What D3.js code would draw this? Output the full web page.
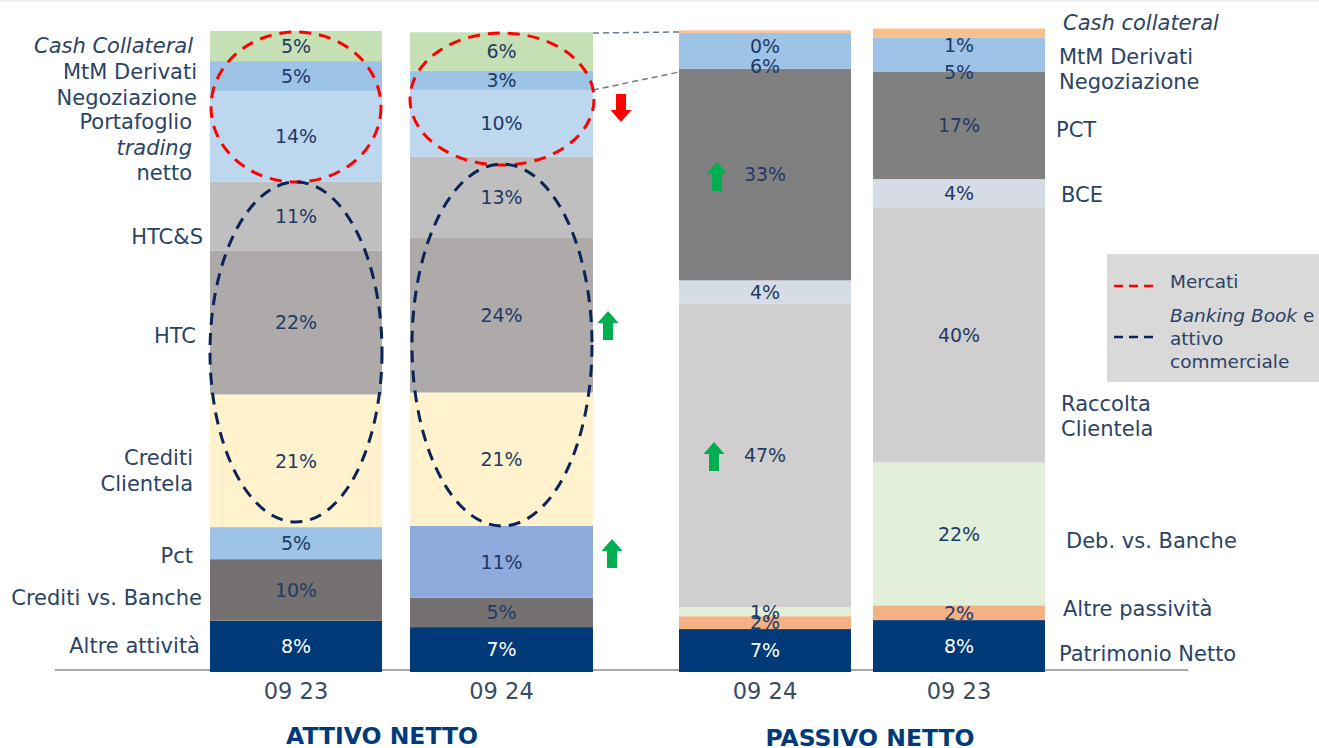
<!DOCTYPE html>
<html>
<head>
<meta charset="utf-8">
<script src="https://cdn.jsdelivr.net/npm/d3@7"></script>
<style>
  body { margin: 0; background: #fff; }
  svg { display: block; font-family: 'DejaVu Sans', Verdana, sans-serif; }
</style>
</head>
<body>
<svg id="area" width="1319" height="748"></svg>
<script>
// stacks go bottom -> top
const attivoCats = ['Altre attività', 'Crediti vs. Banche', 'Pct', 'Crediti Clientela', 'HTC', 'HTC&S',
  'Portafoglio trading netto', 'MtM Derivati Negoziazione', 'Cash Collateral'];
const attivo0923 = [8.0, 9.6, 5.0, 20.7, 22.4, 10.8, 14.1, 4.7, 4.7];
const attivo0924 = [7.0, 4.6, 11.2, 20.8, 24.1, 12.7, 10.4, 3.0, 6.0];
const attivoColors = ['#003A78', '#767171', '#9DC3E6', '#FFF2CC', '#AEAAAA', '#BFBFBF', '#BDD7EE', '#9DC3E6', '#C5E0B4'];

const passivoCats = ['Patrimonio Netto', 'Altre passività', 'Deb. vs. Banche', 'Raccolta Clientela', 'BCE', 'PCT',
  'MtM Derivati Negoziazione', 'Cash collateral'];
const passivo0924 = [6.7, 2.0, 1.4, 47.4, 3.6, 33.0, 5.6, 0.4];
const passivo0923 = [8.1, 2.3, 22.3, 39.8, 4.4, 16.7, 5.4, 1.4];
const passivoColors = ['#003A78', '#F4B183', '#E2F0D9', '#D0CECE', '#D6DCE5', '#808080', '#9DC3E6', '#F9C08F'];

const periods = ['09 23', '09 24', '09 24', '09 23'];

const bars = [
  { key: 'a0923', label: periods[0], cats: attivoCats, values: attivo0923, colors: attivoColors },
  { key: 'a0924', label: periods[1], cats: attivoCats, values: attivo0924, colors: attivoColors.map((c, i) => (i === 2 ? '#8FAADC' : c)) },
  { key: 'p0924', label: periods[2], cats: passivoCats, values: passivo0924, colors: passivoColors },
  { key: 'p0923', label: periods[3], cats: passivoCats, values: passivo0923, colors: passivoColors },
];

const svg = d3.select('#area');
const textColor = '#2B4364';
const valueColor = '#1F3A66';

// bars are not evenly spaced in the original
const barBox = {
  a0923: [210, 382], a0924: [410, 593], p0924: [679, 851], p0923: [873, 1045],
};
const y = d3.scaleLinear().domain([0, 100]).range([672, 31]);
const fmt = (v) => `${d3.format('.0f')(v)}%`;

// small labels at the top of the passivo bars are pushed down
const labelNudge = {
  'p0924|Cash collateral': 15,
  'p0924|MtM Derivati Negoziazione': 15,
  'p0923|Cash collateral': 12,
  'p0923|MtM Derivati Negoziazione': 17,
};

svg.append('rect').attr('x', 0).attr('y', 0).attr('width', 1319).attr('height', 2).attr('fill', '#EEEEEE');

svg.append('line')
  .attr('x1', 55).attr('x2', 1188)
  .attr('y1', 670).attr('y2', 670)
  .attr('stroke', '#8C8C8C')
  .attr('stroke-width', 1.5);

bars.forEach((b) => {
  const [x0, x1] = barBox[b.key];
  const series = d3.stack().keys(b.cats)([Object.fromEntries(b.cats.map((c, i) => [c, b.values[i]]))]);
  const g = svg.append('g').attr('class', `bar ${b.key}`);

  g.selectAll('rect')
    .data(series)
    .join('rect')
    .attr('x', x0)
    .attr('width', x1 - x0)
    .attr('y', (d) => y(d[0][1]))
    .attr('height', (d) => y(d[0][0]) - y(d[0][1]))
    .attr('fill', (d) => b.colors[d.index]);

  g.selectAll('text')
    .data(series)
    .join('text')
    .attr('x', (x0 + x1) / 2)
    .attr('y', (d) => (y(d[0][0]) + y(d[0][1])) / 2 + (labelNudge[`${b.key}|${d.key}`] || 0))
    .attr('dy', '0.36em')
    .attr('text-anchor', 'middle')
    .attr('font-size', 19)
    .attr('fill', (d) => (b.colors[d.index] === '#003A78' ? '#FFFFFF' : valueColor))
    .text((d) => fmt(b.values[d.index]));

  svg.append('text')
    .attr('x', (x0 + x1) / 2)
    .attr('y', 699)
    .attr('text-anchor', 'middle')
    .attr('font-size', 22.5)
    .attr('fill', '#3B4B60')
    .text(b.label);
});

// category labels
const leftLabels = [
  { x: 193, y: 53, lines: [[['Cash Collateral', true]]] },
  { x: 197, y: 79, lines: [[['MtM Derivati']], [['Negoziazione']]] },
  { x: 192, y: 129, lines: [[['Portafoglio']], [['trading', true]], [['netto']]] },
  { x: 203, y: 244, lines: [[['HTC&S']]] },
  { x: 196, y: 343, lines: [[['HTC']]] },
  { x: 193, y: 465, lines: [[['Crediti']], [['Clientela']]] },
  { x: 193, y: 563, lines: [[['Pct']]] },
  { x: 202, y: 605, lines: [[['Crediti vs. Banche']]] },
  { x: 200, y: 653, lines: [[['Altre attività']]] },
];
const rightLabels = [
  { x: 1063, y: 30, lines: [[['Cash collateral', true]]] },
  { x: 1059, y: 64, lines: [[['MtM Derivati']], [['Negoziazione']]] },
  { x: 1056, y: 137, lines: [[['PCT']]] },
  { x: 1061, y: 202, lines: [[['BCE']]] },
  { x: 1061, y: 411, lines: [[['Raccolta']], [['Clientela']]] },
  { x: 1066, y: 548, lines: [[['Deb. vs. Banche']]] },
  { x: 1063, y: 616, lines: [[['Altre passività']]] },
  { x: 1059, y: 661, lines: [[['Patrimonio Netto']]] },
];

const drawLabel = (l, anchor, size, lineH) => {
  l.lines.forEach((parts, i) => {
    const t = svg.append('text')
      .attr('x', l.x)
      .attr('y', l.y + i * lineH)
      .attr('text-anchor', anchor)
      .attr('font-size', size)
      .attr('fill', textColor);
    parts.forEach(([s, it]) => {
      t.append('tspan').attr('font-style', it ? 'italic' : 'normal').text(s);
    });
  });
};
leftLabels.forEach((l) => drawLabel(l, 'end', 21, 25.5));
rightLabels.forEach((l) => drawLabel(l, 'start', 21, 25));

// dashed connectors between the two panels
svg.append('g')
  .selectAll('line')
  .data([[593, 33, 679, 32], [593, 90, 679, 72]])
  .join('line')
  .attr('x1', (d) => d[0]).attr('y1', (d) => d[1])
  .attr('x2', (d) => d[2]).attr('y2', (d) => d[3])
  .attr('stroke', '#6F7C8E')
  .attr('stroke-width', 1.5)
  .attr('stroke-dasharray', '6,4');

// highlight ellipses
const ellipses = [
  { cx: 296, cy: 107, rx: 85, ry: 75, c: '#FF0000' },
  { cx: 502, cy: 99, rx: 92, ry: 66, c: '#FF0000' },
  { cx: 296, cy: 352, rx: 86, ry: 170, c: '#0B2458' },
  { cx: 502, cy: 345, rx: 90, ry: 181, c: '#0B2458' },
];
svg.append('g')
  .selectAll('ellipse')
  .data(ellipses)
  .join('ellipse')
  .attr('cx', (d) => d.cx).attr('cy', (d) => d.cy)
  .attr('rx', (d) => d.rx).attr('ry', (d) => d.ry)
  .attr('fill', 'none')
  .attr('stroke', (d) => d.c)
  .attr('stroke-width', 3)
  .attr('stroke-dasharray', '12,8');

// arrows
const arrowPath = (cx, top, bottom, up) => {
  const sw = 5; const hw = 10.5; const hl = 12;
  if (up) {
    return `M${cx},${top}L${cx + hw},${top + hl}L${cx + sw},${top + hl}L${cx + sw},${bottom}`
      + `L${cx - sw},${bottom}L${cx - sw},${top + hl}L${cx - hw},${top + hl}Z`;
  }
  return `M${cx},${bottom}L${cx + hw},${bottom - hl}L${cx + sw},${bottom - hl}L${cx + sw},${top}`
    + `L${cx - sw},${top}L${cx - sw},${bottom - hl}L${cx - hw},${bottom - hl}Z`;
};
const arrows = [
  { cx: 621, t: 94, b: 122, up: false, c: '#FF0000' },
  { cx: 608, t: 311, b: 340, up: true, c: '#00B050' },
  { cx: 612, t: 539, b: 568, up: true, c: '#00B050' },
  { cx: 717, t: 162, b: 191, up: true, c: '#00B050' },
  { cx: 714, t: 442, b: 471, up: true, c: '#00B050' },
];
svg.append('g')
  .selectAll('path')
  .data(arrows)
  .join('path')
  .attr('d', (d) => arrowPath(d.cx, d.t, d.b, d.up))
  .attr('fill', (d) => d.c);

// legend
const legend = svg.append('g');
legend.append('rect')
  .attr('x', 1107).attr('y', 254)
  .attr('width', 220).attr('height', 128)
  .attr('fill', '#D9D9D9');
legend.selectAll('line')
  .data([{ y: 286, c: '#FF0000' }, { y: 337, c: '#0B2458' }])
  .join('line')
  .attr('x1', 1114).attr('x2', 1158)
  .attr('y1', (d) => d.y).attr('y2', (d) => d.y)
  .attr('stroke', (d) => d.c)
  .attr('stroke-width', 2.5)
  .attr('stroke-dasharray', '9,6');
[
  [[['Mercati']], 288],
  [[['Banking Book', true], [' e']], 322],
  [[['attivo']], 345],
  [[['commerciale']], 368],
].forEach(([parts, yy]) => {
  const t = legend.append('text')
    .attr('x', 1170).attr('y', yy)
    .attr('font-size', 18.5)
    .attr('fill', textColor);
  parts.forEach(([s, it]) => t.append('tspan').attr('font-style', it ? 'italic' : 'normal').text(s));
});

// panel titles
svg.selectAll('.title')
  .data([{ t: 'ATTIVO NETTO', x: 382, y: 744 }, { t: 'PASSIVO NETTO', x: 870, y: 746 }])
  .join('text')
  .attr('class', 'title')
  .attr('x', (d) => d.x).attr('y', (d) => d.y)
  .attr('text-anchor', 'middle')
  .attr('font-size', 23.5)
  .attr('font-weight', 'bold')
  .attr('fill', '#003A78')
  .text((d) => d.t);
</script>
</body>
</html>
